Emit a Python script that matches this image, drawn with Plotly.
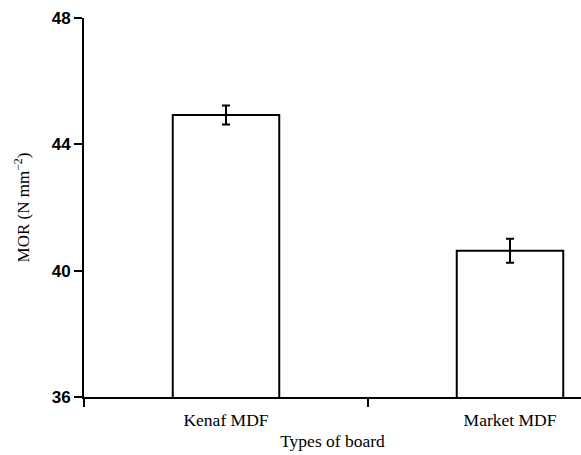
import plotly.graph_objects as go

# MOR of two board types, mean with error
boards = ["Kenaf MDF", "Market MDF"]
mor_mean = [44.93, 40.63]
mor_err = [0.30, 0.38]
y_ticks = [36, 40, 44, 48]

fig = go.Figure()
fig.add_trace(go.Bar(
    x=boards,
    y=mor_mean,
    base=0,
    width=0.375,
    marker=dict(color="white", line=dict(color="black", width=2)),
    error_y=dict(type="data", array=mor_err, visible=True,
                 color="black", thickness=2, width=4),
))

serif = "Liberation Serif"
fig.update_layout(
    width=581, height=455,
    margin=dict(l=84, r=0, t=18, b=58),
    plot_bgcolor="white", paper_bgcolor="white",
    showlegend=False,
    xaxis=dict(
        range=[-0.5, 1.25],
        showline=True, linecolor="black", linewidth=2,
        ticks="outside", tickson="boundaries", ticklen=8, tickwidth=2, tickcolor="black",
        ticklabelstandoff=6,
        tickfont=dict(family=serif, size=17.5, color="black"),
        title=dict(text="Types of board", font=dict(family=serif, size=17.5, color="black"), standoff=6),
        showgrid=False, zeroline=False,
    ),
    yaxis=dict(
        range=[36, 48],
        tickvals=y_ticks,
        showline=True, linecolor="black", linewidth=2,
        ticks="outside", ticklen=8, tickwidth=2, tickcolor="black",
        tickfont=dict(family="Liberation Sans", size=17, color="black", weight="bold"),
        title=dict(text="MOR (N mm<sup>\u22122</sup>)", font=dict(family=serif, size=17, color="black"), standoff=18),
        showgrid=False, zeroline=False,
    ),
)

fig.write_html("out.html")
